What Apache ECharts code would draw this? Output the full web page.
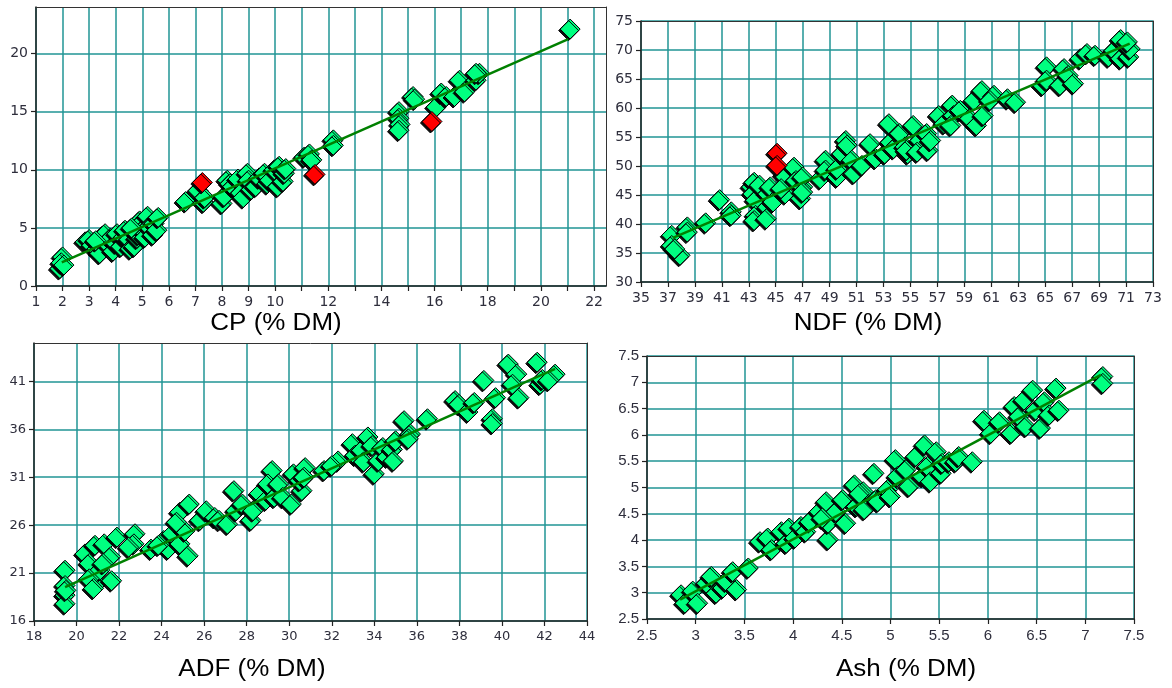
<!DOCTYPE html>
<html>
<head>
<meta charset="utf-8">
<script src="https://cdn.jsdelivr.net/npm/echarts@6/dist/echarts.min.js"></script>
<style>html,body{margin:0;padding:0;background:#fff}#c{width:1172px;height:688px}</style>
</head>
<body>
<div id="c"></div>
<script>
// ---- data (reference value, predicted value) ----
const cpGreen = [[1.9,1.5],[2.0,2.5],[1.95,2.0],[2.05,1.8],
 [2.85,3.8],[3.0,4.0],[3.1,3.5],[3.3,3.2],[3.4,2.8],[3.5,4.3],[3.6,4.5],[3.7,3.6],[3.8,4.1],[3.9,3.0],[4.0,3.7],[4.05,4.5],[4.2,3.4],[4.3,4.2],[4.35,4.8],[4.5,4.0],[4.55,3.2],[4.7,3.4],[4.8,4.1],[4.85,4.4],[4.9,5.6],[5.0,5.5],[5.0,4.8],[5.1,4.2],[5.2,6.0],[5.25,5.1],[5.4,4.4],[5.45,5.4],[5.55,4.8],[5.6,5.9],[3.25,3.9],[4.6,5.0],
 [6.63,7.26],[7.1,8.2],[7.3,7.2],[7.35,7.6],
 [8.0,7.1],[8.08,7.7],[8.2,9.1],[8.3,8.8],[8.4,8.55],[8.6,9.2],[8.7,8.0],[8.8,7.6],[8.96,9.7],[9.0,9.1],[9.1,8.3],[9.27,8.55],[9.4,9.3],[9.6,9.7],[9.7,8.8],[9.8,9.1],[9.97,10.0],[10.1,8.55],[10.15,10.3],[10.3,9.0],[10.35,9.7],[10.4,10.1],
 [11.1,11.1],[11.29,11.36],[11.38,10.85],[12.19,12.57],[12.19,12.1],
 [14.66,15.0],[14.66,14.43],[14.7,13.9],[14.66,13.4],[15.19,16.3],[15.25,16.07],[16.06,15.4],[16.25,16.6],[16.44,16.3],[16.75,16.3],[16.94,17.7],[17.13,16.7],[17.56,17.7],[17.69,18.3],[17.56,18.3],
 [21.1,22.1]];
const cpRed = [[7.26,8.9],[11.5,9.6],[15.9,14.15]];
const cpFit = [[1.97,2.04],[21.03,21.24]];

const ndfGreen = [[37.28,38.05],[37.28,36.3],[37.9,34.6],[37.5,35.7],[38.44,39.5],[38.44,38.6],[39.8,40.2],[40.84,44.2],[41.7,42.1],[41.7,41.5],
 [43.2,46.4],[43.4,47.2],[43.3,45.2],[43.5,44.1],[43.5,41.5],[43.4,40.6],[43.8,46.7],[44.4,42.9],[44.3,40.9],[44.4,45.2],[44.6,46.4],[44.8,43.8],
 [45.7,45.2],[45.6,48.4],[45.4,46.1],[46.36,49.8],[46.5,47.5],[47.0,46.4],[47.0,48.1],[46.85,44.4],[47.0,45.5],
 [48.3,47.8],[48.7,51.0],[48.7,49.3],[49.55,48.1],[49.55,49.5],[50.2,54.4],[49.9,52.1],[50.3,53.6],[50.65,51.0],[50.8,48.7],[51.4,50.1],[52.0,53.85],[52.4,51.3],
 [53.4,57.3],[53.1,52.1],[53.5,54.1],[53.75,53.0],[54.2,55.6],[54.6,53.3],[54.8,52.1],[55.2,57.0],[54.7,52.7],[55.7,54.4],[55.5,52.4],[56.2,55.6],[56.3,52.7],[56.5,54.4],
 [57.1,58.7],[57.5,57.3],[58.1,60.5],[58.2,58.7],[58.7,59.6],[58.0,57.0],[59.4,58.2],[59.7,61.3],[59.9,57.0],[60.3,63.0],[60.4,58.7],[61.2,62.2],[60.9,61.3],[62.2,61.6],[62.8,61.0],
 [64.8,63.9],[65.1,67.1],[65.1,64.8],[66.1,63.9],[66.4,66.8],[66.7,65.6],[67.1,64.2],[67.6,68.5],[68.1,69.4],[68.7,69.1],[69.7,68.8],[70.1,69.9],[70.6,71.8],[70.6,68.5],[71.2,68.8],[71.3,70.2],[71.1,71.4]];
const ndfRed = [[45.1,52.2],[45.1,50.1]];
const ndfFit = [[37.36,37.6],[71.27,71.1]];

const adfGreen = [[19.46,21.3],[19.46,19.7],[19.46,18.7],[19.46,17.8],[19.5,19.2],
 [20.4,23.0],[20.87,23.9],[20.6,22.0],[20.94,20.9],[20.94,19.9],[21.1,21.3],[20.6,20.4],[21.3,24.05],[21.6,22.7],[21.65,20.2],[21.9,24.75],[21.25,22.0],[20.8,19.4],
 [22.75,25.1],[22.7,24.05],[22.45,23.7],[23.5,23.5],[24.1,24.4],[24.3,23.5],[23.85,23.9],[24.5,25.1],
 [24.86,27.35],[25.3,28.2],[25.25,22.8],[24.86,24.05],[25.1,25.4],[24.7,26.3],[25.8,26.5],[26.1,27.5],[26.5,26.8],[26.7,26.5],
 [27.1,26.1],[27.4,29.6],[27.5,27.5],[27.8,28.2],[28.2,26.5],[28.3,27.5],[28.6,29.3],[28.9,28.6],[29.2,31.7],[29.0,30.3],[29.3,28.9],[29.5,30.3],[29.7,28.9],
 [30.1,28.2],[30.2,31.35],[30.6,29.6],[30.75,32.0],[30.5,30.65],[30.7,31.0],
 [31.64,31.7],[32.3,32.7],[32.0,32.2],[32.97,34.5],[33.1,33.3],[33.4,33.8],[33.5,32.6],[33.7,35.2],[33.9,34.3],[34.0,31.35],[34.2,32.7],[34.4,34.1],[34.6,33.1],[34.85,33.9],[34.9,32.7],[35.0,34.8],
 [35.4,36.9],[35.7,35.5],[35.6,35.0],[36.5,37.1],[37.8,39.0],[37.98,38.6],[38.4,37.8],[38.7,38.8],[39.15,41.1],[39.55,37.1],[39.55,36.6],[39.7,39.3],[40.3,42.8],[40.7,41.75],[40.8,39.3],[40.5,40.7],[41.66,43.0],[41.8,40.7],[41.9,41.2],[42.5,41.75],[42.2,41.1]];
const adfFit = [[19.46,19.54],[42.5,42.3]];

const ashGreen = [[2.85,2.96],[2.89,2.8],[2.97,3.03],[3.02,2.8],[3.11,3.18],[3.16,3.31],[3.21,2.99],[3.28,3.09],[3.31,3.22],[3.38,3.4],[3.42,3.06],[3.54,3.47],
 [3.66,3.97],[3.74,4.04],[3.78,3.82],[3.88,4.16],[3.93,3.94],[3.96,4.23],[4.02,4.04],[4.08,4.26],[4.13,4.16],[4.17,4.35],
 [4.27,4.54],[4.34,4.73],[4.36,4.01],[4.36,4.32],[4.44,4.54],[4.3,4.42],[4.51,4.77],[4.54,4.32],[4.63,5.05],[4.65,4.64],[4.72,4.92],[4.75,4.61],[4.83,5.27],[4.85,4.77],
 [4.68,4.88],[4.73,4.58],[4.87,4.73],[4.97,4.96],[5.0,4.83],[5.05,5.53],[5.07,5.21],[5.16,5.34],[5.19,5.02],[5.26,5.59],[5.33,5.21],[5.35,5.81],[5.38,5.4],[5.41,5.11],[5.47,5.68],[5.52,5.27],[5.53,5.46],[5.6,5.49],[5.67,5.49],[5.7,5.59],[5.84,5.49],
 [5.96,6.28],[6.03,6.03],[6.12,6.25],[6.24,6.03],[6.27,6.54],[6.32,6.35],[6.37,6.66],[6.39,6.16],[6.46,6.85],[6.49,6.47],[6.54,6.13],[6.58,6.63],[6.63,6.38],[6.7,6.89],[6.73,6.47],
 [7.18,7.11],[7.18,6.98]];
const ashFit = [[2.84,2.87],[7.16,7.14]];

const axisTitles = ['CP (% DM)', 'NDF (% DM)', 'ADF (% DM)', 'Ash (% DM)'];

// ---- chart ----
const GRID_COLOR = '#219494';
const LABEL_COLOR = '#2e2e3c';
function isStep(v, min, step){ const k=(v-min)/step; return Math.abs(k-Math.round(k))<1e-6; }
function fmtNum(v){ return String(Math.round(v*100)/100); }
function stepValues(min, max, step){ const out=[]; for(let i=0; min+i*step<=max+1e-9; i++) out.push(Math.round((min+i*step)*1000)/1000); return out; }

function axis(type, gi, min, max, step, show, font){
  return {
    type:'value', gridIndex:gi, min:min, max:max, interval:step,
    position: type==='x' ? 'bottom' : 'left',
    axisLine:{show:true, onZero:false, lineStyle:{color:'#222', width:1.5}},
    axisTick:{show:true, length:5, customValues:stepValues(min,max,step), lineStyle:{color:'#222', width:1.2}},
    splitLine:{show:true, lineStyle:{color:GRID_COLOR, width:1.5}},
    axisLabel:{show:true, color:LABEL_COLOR, fontFamily:font.family, fontSize:font.size, margin: type==='x'?9:8,
      showMinLabel:true, showMaxLabel:true,
      formatter:function(v){ return show(v) ? fmtNum(v) : ''; }}
  };
}
// frame axes (top / right) drawing only the border line
function frame(type, gi, min, max){
  return {
    type:'value', gridIndex:gi, min:min, max:max, position: type==='x' ? 'top' : 'right',
    axisLine:{show:true, onZero:false, lineStyle:{color:'#333', width:1}},
    axisTick:{show:false}, axisLabel:{show:false}, splitLine:{show:false}
  };
}
const fA = {family:'DejaVu Sans', size:14};
const fB = {family:'DejaVu Sans', size:13};
const fC = {family:'Liberation Sans', size:15};

const grids = [
  {left:36, top:7, width:570, height:279},
  {left:641, top:21, width:512, height:261},
  {left:34, top:343, width:553, height:278},
  {left:647, top:356, width:487, height:263}
];

const xAxes = [
  axis('x',0,1,22.45,1,v=>isStep(v,1,1)&&(v<=10||Math.round(v)%2===0),fA),
  axis('x',1,35,73,2,v=>isStep(v,35,2),fA),
  axis('x',2,18,44,2,v=>isStep(v,18,2),fB),
  axis('x',3,2.5,7.5,0.5,v=>isStep(v,2.5,0.5),fC),
  frame('x',0,1,22.45), frame('x',1,35,73), frame('x',2,18,44), frame('x',3,2.5,7.5)
];
const yAxes = [
  axis('y',0,0,24,5,v=>isStep(v,0,5),fA),
  axis('y',1,30,75,5,v=>isStep(v,30,5),fA),
  axis('y',2,16,45,5,v=>isStep(v,16,5),fB),
  axis('y',3,2.5,7.5,0.5,v=>isStep(v,2.5,0.5),fC),
  frame('y',0,0,24), frame('y',1,30,75), frame('y',2,16,45), frame('y',3,2.5,7.5)
];

function pts(data, gi, color, z){
  return {type:'scatter', xAxisIndex:gi, yAxisIndex:gi, data:data, symbol:'diamond', symbolSize:[20,20], z:z,
    silent:true, animation:false,
    itemStyle:{color:color, borderColor:'#000', borderWidth:1, opacity:1,
      shadowColor:'rgba(0,0,0,0.95)', shadowBlur:0, shadowOffsetX:-1.5, shadowOffsetY:1.5}};
}
function fit(data, gi){
  return {type:'line', xAxisIndex:gi, yAxisIndex:gi, data:data, showSymbol:false, symbol:'none', z:3,
    silent:true, animation:false, lineStyle:{color:'#008000', width:2.5}};
}

const series = [
  pts(cpGreen,0,'#00FF80',2), fit(cpFit,0), pts(cpRed,0,'#FF0000',4),
  pts(ndfGreen,1,'#00FF80',2), fit(ndfFit,1), pts(ndfRed,1,'#FF0000',4),
  pts(adfGreen,2,'#00FF80',2), fit(adfFit,2),
  pts(ashGreen,3,'#00FF80',2), fit(ashFit,3)
];

const titlePos = [[276,324],[868,324],[252,670],[906,670]];
const graphic = axisTitles.map((t,i)=>({
  type:'text', x:titlePos[i][0], y:titlePos[i][1], scaleX:1.13, scaleY:1, z:10,
  style:{text:t, fill:'#000', font:'23px "Liberation Sans", Arial, sans-serif', textAlign:'center', textVerticalAlign:'middle'}
}));

const chart = echarts.init(document.getElementById('c'), null, {renderer:'canvas'});
chart.setOption({
  animation:false, backgroundColor:'#fff',
  grid:grids, xAxis:xAxes, yAxis:yAxes, series:series, graphic:graphic
});
</script>
</body>
</html>
